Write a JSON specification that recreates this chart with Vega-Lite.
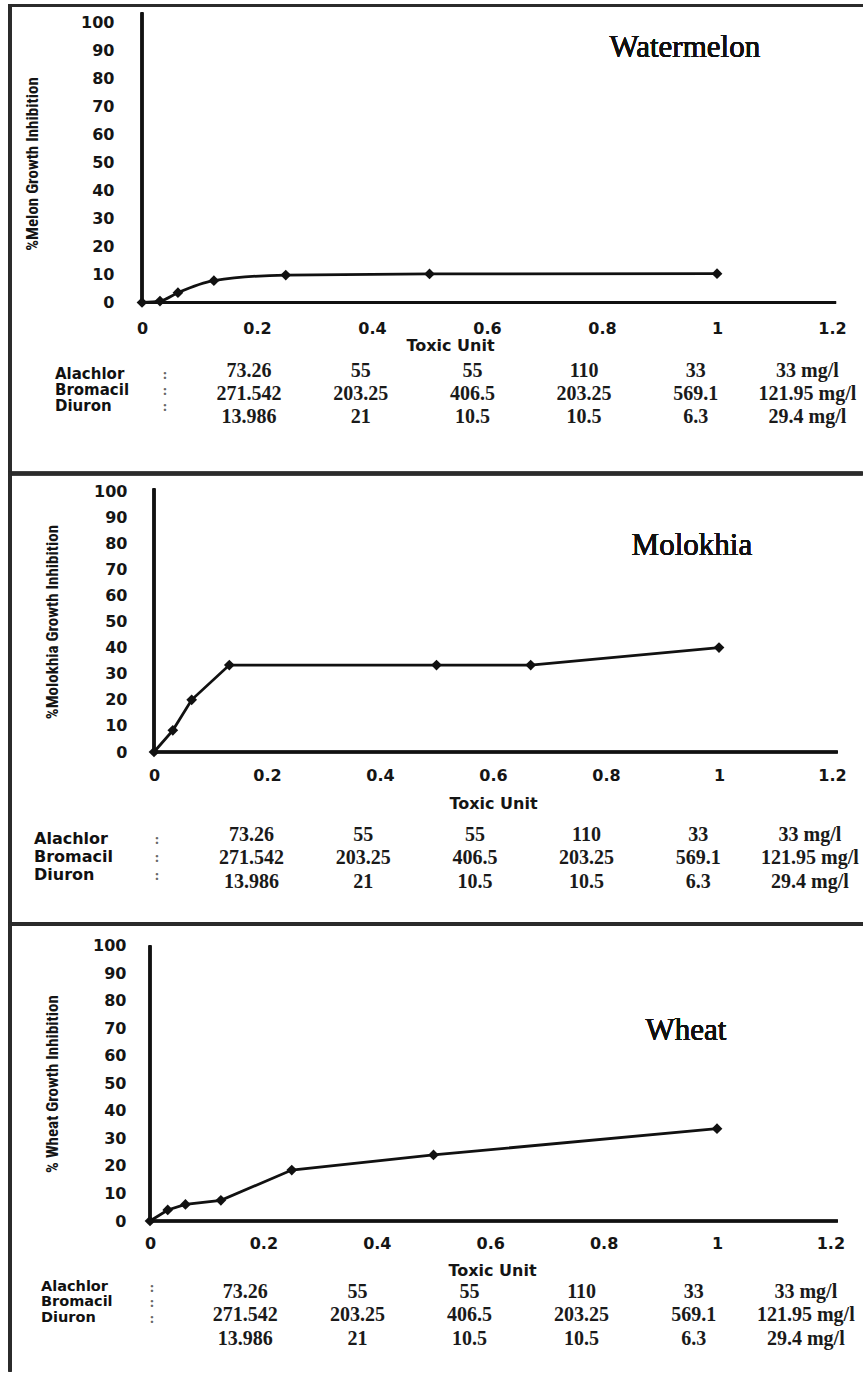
{
  "$schema": "https://vega.github.io/schema/vega-lite/v6.json",
  "background": "white",
  "padding": {"left": 7, "top": 3, "right": 0, "bottom": 0},
  "bounds": "flush",
  "spacing": 188,
  "datasets": {
    "melon": [
      {"tu": 0, "pct": 0}, {"tu": 0.03125, "pct": 0.5}, {"tu": 0.0625, "pct": 3.5},
      {"tu": 0.125, "pct": 7.8}, {"tu": 0.25, "pct": 9.8}, {"tu": 0.5, "pct": 10.2}, {"tu": 1, "pct": 10.3}
    ],
    "molokhia": [
      {"tu": 0, "pct": 0}, {"tu": 0.0333, "pct": 8.3}, {"tu": 0.0667, "pct": 20},
      {"tu": 0.1333, "pct": 33.3}, {"tu": 0.5, "pct": 33.3}, {"tu": 0.6667, "pct": 33.3}, {"tu": 1, "pct": 40}
    ],
    "wheat": [
      {"tu": 0, "pct": 0}, {"tu": 0.03125, "pct": 4}, {"tu": 0.0625, "pct": 6},
      {"tu": 0.125, "pct": 7.5}, {"tu": 0.25, "pct": 18.5}, {"tu": 0.5, "pct": 24}, {"tu": 1, "pct": 33.5}
    ],
    "doses": [
      {"row": 1, "col": 1, "val": "73.26"}, {"row": 1, "col": 2, "val": "55"}, {"row": 1, "col": 3, "val": "55"},
      {"row": 1, "col": 4, "val": "110"}, {"row": 1, "col": 5, "val": "33"}, {"row": 1, "col": 6, "val": "33 mg/l"},
      {"row": 2, "col": 1, "val": "271.542"}, {"row": 2, "col": 2, "val": "203.25"}, {"row": 2, "col": 3, "val": "406.5"},
      {"row": 2, "col": 4, "val": "203.25"}, {"row": 2, "col": 5, "val": "569.1"}, {"row": 2, "col": 6, "val": "121.95 mg/l"},
      {"row": 3, "col": 1, "val": "13.986"}, {"row": 3, "col": 2, "val": "21"}, {"row": 3, "col": 3, "val": "10.5"},
      {"row": 3, "col": 4, "val": "10.5"}, {"row": 3, "col": 5, "val": "6.3"}, {"row": 3, "col": 6, "val": "29.4 mg/l"}
    ],
    "herbicides": [
      {"row": 1, "name": "Alachlor"}, {"row": 2, "name": "Bromacil"}, {"row": 3, "name": "Diuron"}
    ]
  },
  "vconcat": [
    {
      "width": 696,
      "height": 291.5,
      "layer": [
        {
          "data": {"name": "melon"},
          "layer": [
            {
              "mark": {"type": "line", "interpolate": "monotone", "color": "#111", "strokeWidth": 2.8},
              "encoding": {
                "x": {"field": "tu", "type": "quantitative", "title": "Toxic Unit",
                      "scale": {"domain": [0, 1.2104], "nice": false, "zero": false},
                      "axis": {"values": [0, 0.2, 0.4, 0.6, 0.8, 1, 1.2], "tickCount": 7, "format": ".1~f", "labelOverlap": false, "labelFlush": false, "labelPadding": 26, "titleX": 308, "titleY": 43}},
                "y": {"field": "pct", "type": "quantitative", "title": "%Melon Growth Inhibition",
                      "scale": {"domain": [0, 104], "nice": false, "zero": false},
                      "axis": {"values": [0, 10, 20, 30, 40, 50, 60, 70, 80, 90, 100], "tickCount": 11, "format": "d", "labelOverlap": false, "labelPadding": 28, "titleX": -109.5, "titleY": 152.5}}
              }
            },
            {
              "mark": {"type": "point", "shape": "diamond", "filled": true, "color": "#111", "size": 115, "opacity": 1},
              "encoding": {"x": {"field": "tu", "type": "quantitative"}, "y": {"field": "pct", "type": "quantitative"}}
            },
            {"mark": {"type": "rule", "stroke": "#2b2b2b", "strokeWidth": 3, "strokeCap": "square"},
             "encoding": {"x": {"datum": -0.2296}, "x2": {"datum": 1.2504}, "y": {"datum": 105.96}}},
            {"mark": {"type": "rule", "stroke": "#2b2b2b", "strokeWidth": 3, "strokeCap": "square"},
             "encoding": {"x": {"datum": -0.2296}, "y": {"datum": 105.96}, "y2": {"datum": -61.01}}},
            {"mark": {"type": "rule", "stroke": "#2b2b2b", "strokeWidth": 3.5, "strokeCap": "square"},
             "encoding": {"x": {"datum": -0.2296}, "x2": {"datum": 1.2504}, "y": {"datum": -61.01}}},
            {"mark": {"type": "rule", "stroke": "#111", "strokeWidth": 2.6},
             "encoding": {"x": {"datum": 0}, "y": {"datum": 0}, "y2": {"datum": 103.5}}},
            {"mark": {"type": "rule", "stroke": "#111", "strokeWidth": 2.6},
             "encoding": {"x": {"datum": 0}, "x2": {"datum": 1.207}, "y": {"datum": 0}}},
            {
              "mark": {"type": "text", "text": "Watermelon", "font": "Liberation Serif", "fontSize": 31, "align": "center", "baseline": "alphabetic", "color": "#111"},
              "encoding": {"x": {"datum": 0.944}, "y": {"datum": 87.41}}
            }
          ]
        },
        {
          "data": {"name": "doses"},
          "mark": {"type": "text", "font": "Liberation Serif", "fontWeight": "bold", "fontSize": 20, "color": "#1a1a1a", "align": "center", "baseline": "middle"},
          "encoding": {
            "x": {"field": "col", "type": "quantitative", "scale": {"domain": [0.042, 6.273], "nice": false, "zero": false}, "axis": null},
            "y": {"field": "row", "type": "quantitative", "scale": {"domain": [-14.674, -2.0], "reverse": true, "nice": false, "zero": false}, "axis": null},
            "text": {"field": "val"}
          }
        },
        {
          "data": {"name": "herbicides"},
          "encoding": {
            "y": {"field": "row", "type": "quantitative", "scale": {"domain": [-21.719, -3.5], "reverse": true, "nice": false, "zero": false}, "axis": null}
          },
          "layer": [
            {
              "mark": {"type": "text", "font": "DejaVu Sans", "fontWeight": "bold", "fontSize": 15, "color": "#111", "align": "left", "baseline": "middle"},
              "encoding": {"x": {"datum": 0, "type": "quantitative", "scale": {"domain": [0.791, 7.118], "nice": false, "zero": false}, "axis": null}, "text": {"field": "name"}}
            },
            {
              "mark": {"type": "text", "text": ":", "font": "Liberation Serif", "fontWeight": "bold", "fontSize": 15, "color": "#666", "align": "center", "baseline": "middle"},
              "encoding": {"x": {"datum": 1, "type": "quantitative", "axis": null}}
            }
          ]
        }
      ],
      "resolve": {"scale": {"x": "independent", "y": "independent"}}
    },
    {
      "width": 696,
      "height": 261,
      "layer": [
        {
          "data": {"name": "molokhia"},
          "layer": [
            {
              "mark": {"type": "line", "color": "#111", "strokeWidth": 2.8},
              "encoding": {
                "x": {"field": "tu", "type": "quantitative", "title": "Toxic Unit",
                      "scale": {"domain": [-0.02124, 1.2106], "nice": false, "zero": false},
                      "axis": {"values": [0, 0.2, 0.4, 0.6, 0.8, 1, 1.2], "tickCount": 7, "format": ".1~f", "labelOverlap": false, "labelFlush": false, "labelPadding": 23, "titleX": 351, "titleY": 51}},
                "y": {"field": "pct", "type": "quantitative", "title": "%Molokhia Growth Inhibition",
                      "scale": {"domain": [0, 100], "nice": false, "zero": false},
                      "axis": {"values": [0, 10, 20, 30, 40, 50, 60, 70, 80, 90, 100], "tickCount": 11, "format": "d", "labelOverlap": false, "labelPadding": 15, "titleX": -90, "titleY": 130.5}}
              }
            },
            {
              "mark": {"type": "point", "shape": "diamond", "filled": true, "color": "#111", "size": 115, "opacity": 1},
              "encoding": {"x": {"field": "tu", "type": "quantitative"}, "y": {"field": "pct", "type": "quantitative"}}
            },
            {"mark": {"type": "rule", "stroke": "#2b2b2b", "strokeWidth": 3, "strokeCap": "square"},
             "encoding": {"x": {"datum": -0.2549}, "y": {"datum": 106.51}, "y2": {"datum": -65.9}}},
            {"mark": {"type": "rule", "stroke": "#2b2b2b", "strokeWidth": 3.5, "strokeCap": "square"},
             "encoding": {"x": {"datum": -0.2549}, "x2": {"datum": 1.2513}, "y": {"datum": -65.9}}},
            {"mark": {"type": "rule", "stroke": "#111", "strokeWidth": 2.6},
             "encoding": {"x": {"datum": 0}, "y": {"datum": 0}, "y2": {"datum": 101}}},
            {"mark": {"type": "rule", "stroke": "#111", "strokeWidth": 2.6},
             "encoding": {"x": {"datum": 0}, "x2": {"datum": 1.21}, "y": {"datum": 0}}},
            {
              "mark": {"type": "text", "text": "Molokhia", "font": "Liberation Serif", "fontSize": 31, "align": "center", "baseline": "alphabetic", "color": "#111"},
              "encoding": {"x": {"datum": 0.952}, "y": {"datum": 75.48}}
            }
          ]
        },
        {
          "data": {"name": "doses"},
          "mark": {"type": "text", "font": "Liberation Serif", "fontWeight": "bold", "fontSize": 20, "color": "#1a1a1a", "align": "center", "baseline": "middle"},
          "encoding": {
            "x": {"field": "col", "type": "quantitative", "scale": {"domain": [0.0197, 6.251], "nice": false, "zero": false}, "axis": null},
            "y": {"field": "row", "type": "quantitative", "scale": {"domain": [-13.617, -2.511], "reverse": true, "nice": false, "zero": false}, "axis": null},
            "text": {"field": "val"}
          }
        },
        {
          "data": {"name": "herbicides"},
          "encoding": {
            "y": {"field": "row", "type": "quantitative", "scale": {"domain": [-18.333, -3.833], "reverse": true, "nice": false, "zero": false}, "axis": null}
          },
          "layer": [
            {
              "mark": {"type": "text", "font": "DejaVu Sans", "fontWeight": "bold", "fontSize": 16, "color": "#111", "align": "left", "baseline": "middle"},
              "encoding": {"x": {"datum": 0, "type": "quantitative", "scale": {"domain": [0.878, 6.537], "nice": false, "zero": false}, "axis": null}, "text": {"field": "name"}}
            },
            {
              "mark": {"type": "text", "text": ":", "font": "Liberation Serif", "fontWeight": "bold", "fontSize": 15, "color": "#666", "align": "center", "baseline": "middle"},
              "encoding": {"x": {"datum": 1, "type": "quantitative", "axis": null}}
            }
          ]
        }
      ],
      "resolve": {"scale": {"x": "independent", "y": "independent"}}
    },
    {
      "width": 696,
      "height": 281,
      "layer": [
        {
          "data": {"name": "wheat"},
          "layer": [
            {
              "mark": {"type": "line", "color": "#111", "strokeWidth": 2.8},
              "encoding": {
                "x": {"field": "tu", "type": "quantitative", "title": "Toxic Unit",
                      "scale": {"domain": [-0.01411, 1.2134], "nice": false, "zero": false},
                      "axis": {"values": [0, 0.2, 0.4, 0.6, 0.8, 1, 1.2], "tickCount": 7, "format": ".1~f", "labelOverlap": false, "labelFlush": false, "labelPadding": 22, "titleX": 350, "titleY": 49}},
                "y": {"field": "pct", "type": "quantitative", "title": "% Wheat Growth Inhibition",
                      "scale": {"domain": [0, 102], "nice": false, "zero": false},
                      "axis": {"values": [0, 10, 20, 30, 40, 50, 60, 70, 80, 90, 100], "tickCount": 11, "format": "d", "labelOverlap": false, "labelPadding": 16, "titleX": -90, "titleY": 143.5}}
              }
            },
            {
              "mark": {"type": "point", "shape": "diamond", "filled": true, "color": "#111", "size": 115, "opacity": 1},
              "encoding": {"x": {"field": "tu", "type": "quantitative"}, "y": {"field": "pct", "type": "quantitative"}}
            },
            {"mark": {"type": "rule", "stroke": "#2b2b2b", "strokeWidth": 3, "strokeCap": "square"},
             "encoding": {"x": {"datum": -0.2469}, "y": {"datum": 107.81}, "y2": {"datum": -54.09}}},
            {"mark": {"type": "rule", "stroke": "#111", "strokeWidth": 2.6},
             "encoding": {"x": {"datum": 0}, "y": {"datum": 0}, "y2": {"datum": 100}}},
            {"mark": {"type": "rule", "stroke": "#111", "strokeWidth": 2.6},
             "encoding": {"x": {"datum": 0}, "x2": {"datum": 1.213}, "y": {"datum": 0}}},
            {
              "mark": {"type": "text", "text": "Wheat", "font": "Liberation Serif", "fontSize": 31, "align": "center", "baseline": "alphabetic", "color": "#111"},
              "encoding": {"x": {"datum": 0.945}, "y": {"datum": 65.7}}
            }
          ]
        },
        {
          "data": {"name": "doses"},
          "mark": {"type": "text", "font": "Liberation Serif", "fontWeight": "bold", "fontSize": 20, "color": "#1a1a1a", "align": "center", "baseline": "middle"},
          "encoding": {
            "x": {"field": "col", "type": "quantitative", "scale": {"domain": [0.0785, 6.287], "nice": false, "zero": false}, "axis": null},
            "y": {"field": "row", "type": "quantitative", "scale": {"domain": [-13.957, -2.0], "reverse": true, "nice": false, "zero": false}, "axis": null},
            "text": {"field": "val"}
          }
        },
        {
          "data": {"name": "herbicides"},
          "encoding": {
            "y": {"field": "row", "type": "quantitative", "scale": {"domain": [-21.355, -3.226], "reverse": true, "nice": false, "zero": false}, "axis": null}
          },
          "layer": [
            {
              "mark": {"type": "text", "font": "DejaVu Sans", "fontWeight": "bold", "fontSize": 14.5, "color": "#111", "align": "left", "baseline": "middle"},
              "encoding": {"x": {"datum": 0, "type": "quantitative", "scale": {"domain": [0.91, 7.18], "nice": false, "zero": false}, "axis": null}, "text": {"field": "name"}}
            },
            {
              "mark": {"type": "text", "text": ":", "font": "Liberation Serif", "fontWeight": "bold", "fontSize": 15, "color": "#666", "align": "center", "baseline": "middle"},
              "encoding": {"x": {"datum": 1, "type": "quantitative", "axis": null}}
            }
          ]
        }
      ],
      "resolve": {"scale": {"x": "independent", "y": "independent"}}
    }
  ],
  "config": {
    "view": {"stroke": null},
    "axis": {
      "grid": false, "ticks": false, "tickSize": 0, "domain": false,
      "labelFlush": false, "labelOverlap": false,
      "labelFont": "DejaVu Sans", "labelFontWeight": "bold", "labelFontSize": 16, "labelColor": "#151515",
      "titleColor": "#151515", "titleFontWeight": "bold"
    },
    "axisX": {"labelBaseline": "middle", "titleFont": "DejaVu Sans", "titleFontSize": 16, "titleBaseline": "middle", "titleAlign": "center"},
    "axisY": {"titleFont": "Liberation Sans Narrow, Roboto Condensed, DejaVu Sans Condensed, Liberation Sans", "titleFontSize": 17, "titleAngle": 270, "titleBaseline": "middle", "titleAlign": "center"}
  }
}
